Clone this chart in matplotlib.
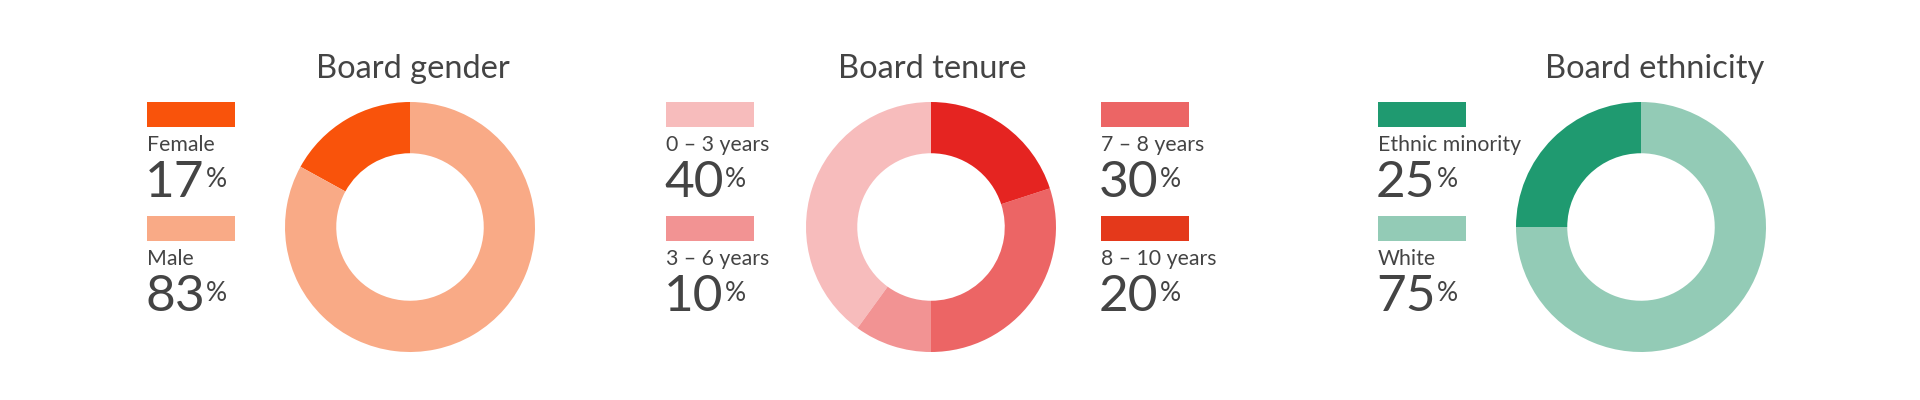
import matplotlib
matplotlib.use("Agg")
import matplotlib.pyplot as plt
from matplotlib.patches import Rectangle

# Data
titles = ["Board gender", "Board tenure", "Board ethnicity"]

gender_labels = ["Female", "Male"]
gender_values = [17, 83]

tenure_labels = ["0 – 3 years", "3 – 6 years", "7 – 8 years", "8 – 10 years"]
tenure_values = [40, 10, 30, 20]

ethnicity_labels = ["Ethnic minority", "White"]
ethnicity_values = [25, 75]

# Styles
gender_colors = ["#f9530b", "#f9aa86"]
tenure_colors = ["#f7bcbc", "#f29393", "#ec6565", "#e52421"]
tenure_swatch_colors = ["#f7bcbc", "#f29393", "#ec6565", "#e4391b"]
ethnicity_colors = ["#1f9a70", "#93cbb6"]
TEXT = "#444444"
FONT = "Lato"

W, H = 1920, 400
fig = plt.figure(figsize=(W / 100, H / 100), dpi=100)
ax = fig.add_axes([0, 0, 1, 1])
renderer = fig.canvas.get_renderer()

R = 125
RING = 0.41 * R


def py(y):
    # pixel row (from top) -> data y
    return H - y


def donut(values, colors, cx, cy):
    ax.pie(values, colors=colors, startangle=90, counterclock=True,
           radius=R, center=(cx, py(cy)),
           wedgeprops=dict(width=RING, linewidth=0))


def legend_item(x, y, label, value, color):
    ax.add_patch(Rectangle((x, py(y + 25)), 88, 25, color=color, lw=0))
    ax.text(x, py(y + 49), label, fontsize=15.3, color=TEXT,
            family=FONT, va="baseline", ha="left")
    t = ax.text(x - 2, py(y + 95), f"{value}", fontsize=37, color=TEXT,
                family=FONT, va="baseline", ha="left")
    bb = t.get_window_extent(renderer=renderer)
    ax.text(bb.x1 + 1, py(y + 85), "%", fontsize=19, color=TEXT,
            family=FONT, va="baseline", ha="left", transform=None)


def title(cx, text):
    ax.text(cx, py(78), text, fontsize=23.5, color=TEXT, family=FONT,
            ha="center", va="baseline")


# donuts first (pie resets the limits)
donut(gender_values, gender_colors, 410, 227)
donut(tenure_values, tenure_colors, 931, 227)
donut(ethnicity_values, ethnicity_colors, 1641, 227)

ax.set_xlim(0, W)
ax.set_ylim(0, H)
ax.set_aspect("auto")
ax.axis("off")

title(413, titles[0])
for i, (lab, val) in enumerate(zip(gender_labels, gender_values)):
    legend_item(147, 102 + 114 * i, lab, val, gender_colors[i])

title(932, titles[1])
for i, (lab, val) in enumerate(zip(tenure_labels, tenure_values)):
    x = 666 if i < 2 else 1101
    legend_item(x, 102 + 114 * (i % 2), lab, val, tenure_swatch_colors[i])

title(1655, titles[2])
for i, (lab, val) in enumerate(zip(ethnicity_labels, ethnicity_values)):
    legend_item(1378, 102 + 114 * i, lab, val, ethnicity_colors[i])

fig.savefig("out.png", dpi=100, facecolor="white")
